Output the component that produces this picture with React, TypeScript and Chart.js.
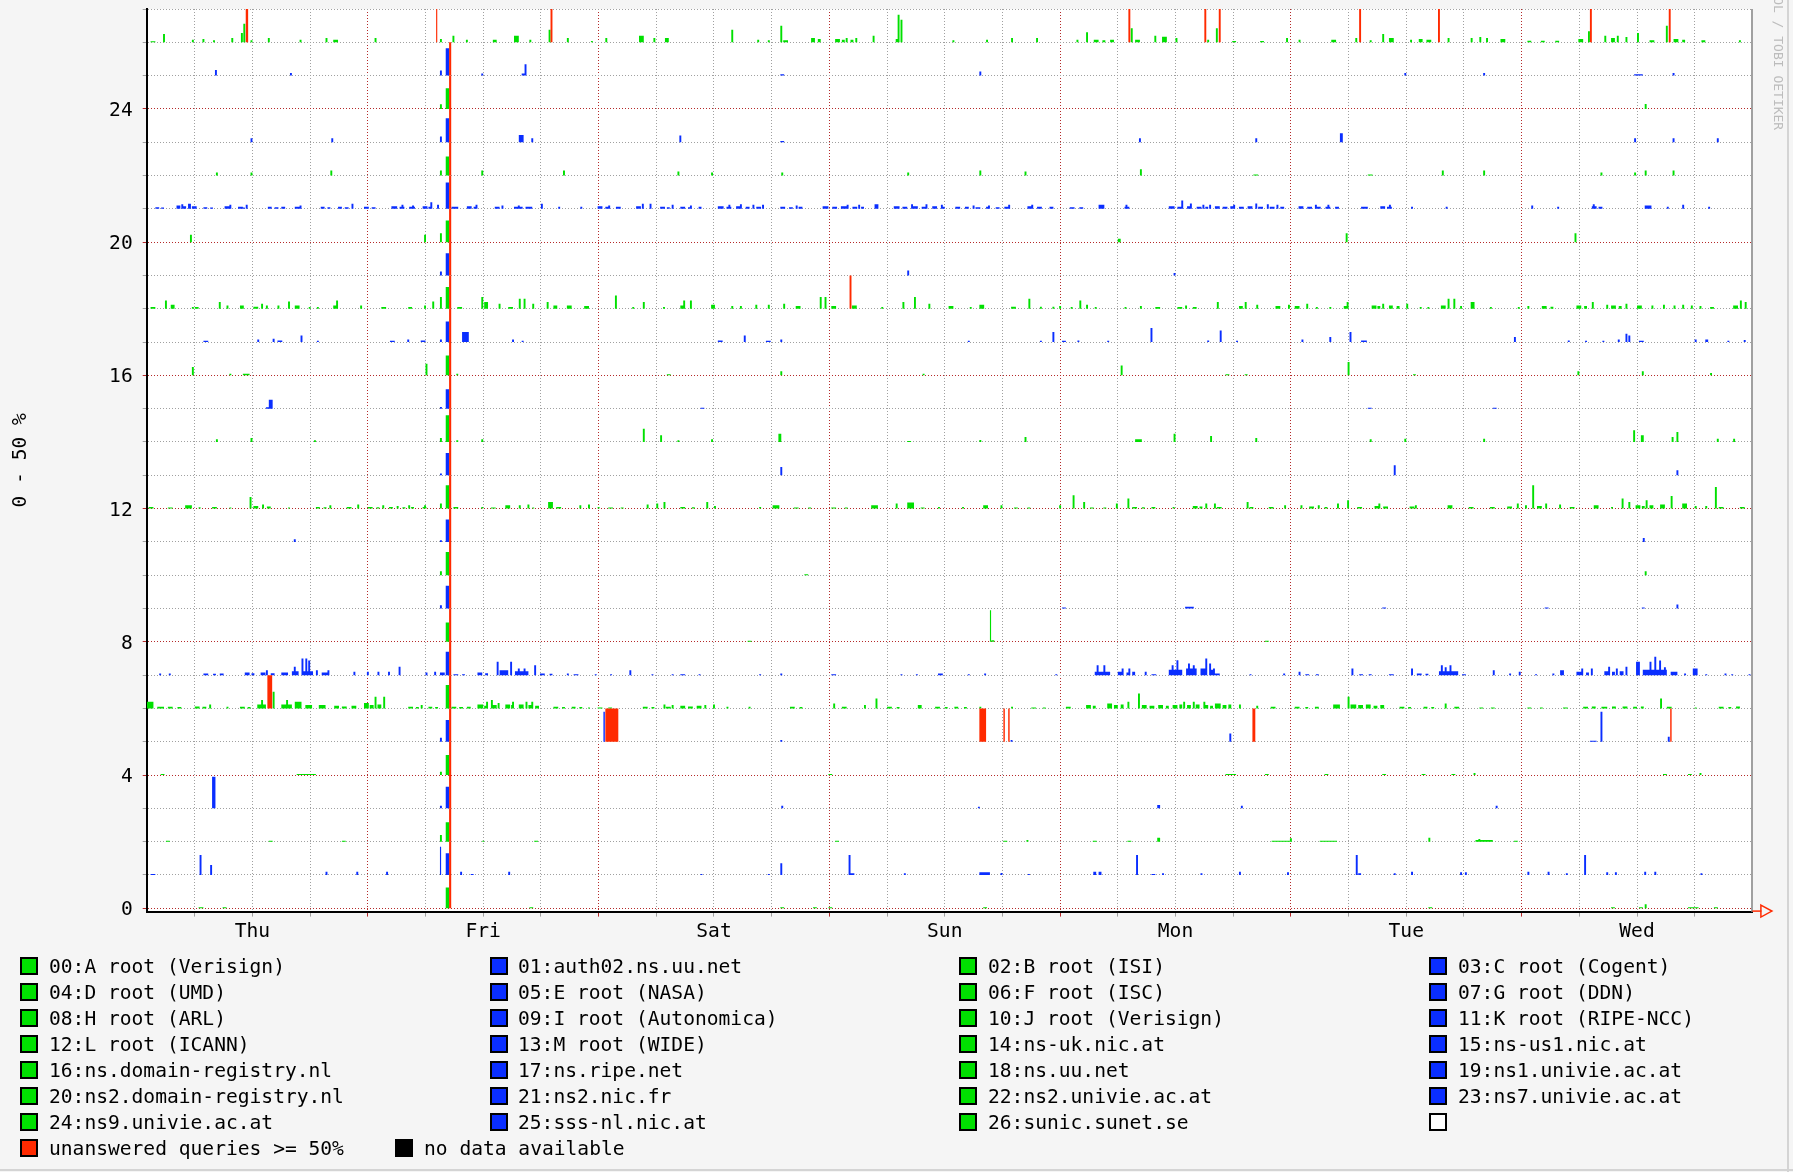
import React, { useEffect, useRef } from 'react';
import { Chart, registerables } from 'chart.js';

Chart.register(...registerables);

// [hour from Thu 00:00, unanswered %, optional width in hours]
type Spike = [number, number, number?];

const X_MIN = 1;
const X_MAX = 168;
const Y_MIN = -0.1;
const Y_MAX = 27;
const X_TICKS = [6, 12, 18, 24, 30, 36, 42, 48, 54, 60, 66, 72, 78, 84, 90, 96, 102, 108, 114, 120, 126, 132, 138, 144, 150, 156, 162];
const DAY_TICKS = [12, 36, 60, 84, 108, 132, 156];
const DAY_LABELS = ['Thu', 'Fri', 'Sat', 'Sun', 'Mon', 'Tue', 'Wed'];
const Y_TICKS = [0, 1, 2, 3, 4, 5, 6, 7, 8, 9, 10, 11, 12, 13, 14, 15, 16, 17, 18, 19, 20, 21, 22, 23, 24, 25, 26, 27];
const Y_LABELED = [0, 4, 8, 12, 16, 20, 24];
const Y_TITLE = '0 - 50 %';

const SERVERS = [
  '00:A root (Verisign)', '01:auth02.ns.uu.net', '02:B root (ISI)', '03:C root (Cogent)',
  '04:D root (UMD)', '05:E root (NASA)', '06:F root (ISC)', '07:G root (DDN)',
  '08:H root (ARL)', '09:I root (Autonomica)', '10:J root (Verisign)', '11:K root (RIPE-NCC)',
  '12:L root (ICANN)', '13:M root (WIDE)', '14:ns-uk.nic.at', '15:ns-us1.nic.at',
  '16:ns.domain-registry.nl', '17:ns.ripe.net', '18:ns.uu.net', '19:ns1.univie.ac.at',
  '20:ns2.domain-registry.nl', '21:ns2.nic.fr', '22:ns2.univie.ac.at', '23:ns7.univie.ac.at',
  '24:ns9.univie.ac.at', '25:sss-nl.nic.at', '26:sunic.sunet.se',
];
const EXTRA_LEGEND = ['unanswered queries >= 50%', 'no data available'];

const s00: Spike[] = [[6.4,1.5,0.5],[8.9,1.5,0.4],[32.1,31,0.35],[40.8,1.5,0.4],[66.9,1.5,0.4],[70.3,1.5,0.4],[71.9,1.5,0.4],[88.0,1.5,0.4],[134.3,1.5,0.4],[153.3,1.5,0.4],[156.2,1.5,0.4],[156.8,6],[161.3,1.5,1.1],[164.0,1.5,0.4]];
const s01: Spike[] = [[1.4,1.5,0.5],[6.5,30],[7.6,15],[19.6,5],[22.8,5],[25.9,5],[31.5,42.5,0.12],[32.1,32.5,0.35],[33.6,5],[34.7,1.5,0.3],[38.6,5],[58.6,1.5],[65.6,1.5],[66.9,17.5],[74.0,30],[74.2,2.5,0.4],[79.75,2.5],[87.6,4,1.1],[89.8,3],[92.65,1.5],[99.45,5,0.3],[100.0,5,0.3],[103.9,30],[105.5,1.5,0.4],[106.6,2.5],[110.6,2.5],[114.6,5],[119.6,4],[126.75,30],[127.0,2.5,0.3],[130.7,2.5],[132.5,5],[137.6,4],[138.1,4],[144.6,5],[146.7,5],[148.6,2.5],[150.5,30],[152.8,4],[153.7,4],[156.75,5],[157.8,5],[162.6,2.5]];
const s02: Spike[] = [[3.0,1.5,0.4],[13.7,1.5,0.4],[21.3,1.5,0.4],[31.5,10],[32.1,29,0.35],[35.9,1.5],[41.3,1.5,0.4],[72.6,1.5,0.4],[90.1,1.5,0.4],[92.5,2.5],[99.4,1.5,0.4],[103.0,1.5,0.4],[106.1,6,0.3],[118.0,1.5,2.0],[119.9,5],[123.0,1.5,1.8],[134.3,6],[139.2,2.5,1.8],[139.5,4],[143.2,1.5,0.4]];
const s03: Spike[] = [[7.8,47.5,0.35],[31.5,4],[32.1,32.5,0.35],[67.0,4],[87.45,2.5],[106.1,5,0.3],[114.8,4],[141.3,4]];
const s04: Spike[] = [[2.45,1.5,0.4],[16.6,1.5,2.0],[31.5,5],[32.1,30,0.35],[71.9,1.5,0.4],[113.2,1.5,1.1],[117.3,1.5,0.4],[123.5,1.5,0.4],[129.5,1.5,0.4],[133.6,1.5,0.4],[136.7,1.5,0.4],[139.0,3],[158.7,1.5,0.4],[161.3,1.5,0.4],[162.5,3]];
const s05: Spike[] = [[31.5,6],[32.1,32.5,0.35],[48.5,45,0.15],[66.9,2.5],[90.85,2.5],[113.6,12.5],[151.1,1.5,0.7],[152.2,45],[159.2,7.5]];
const s06: Spike[] = [[1.0,10,0.7],[1.5,4],[2.1,2.5,0.7],[3.2,2.5,0.5],[4.2,2,0.4],[6.0,3,0.5],[6.8,2.5,0.4],[7.5,6],[9.3,2.5],[10.7,2.5,0.5],[11.5,2,0.3],[12.5,6,0.9],[12.9,12.5],[14.1,25],[15.0,6,1.1],[15.5,12.5],[16.4,10,0.7],[17.5,5,0.7],[18.9,5,0.7],[20.5,4,0.5],[21.3,3,0.5],[22.3,4,0.5],[23.6,8,0.5],[24.2,5,0.4],[24.7,17.5],[25.0,6,0.4],[25.6,17.5],[28.2,2.5,0.5],[29.0,2,0.3],[29.5,5],[30.3,2.5,0.4],[31.0,2,0.3],[32.1,35,0.35],[32.7,2.5,0.5],[33.5,2,0.4],[34.3,2.5,0.4],[35.4,6,0.6],[36.1,4,0.2],[36.3,10],[36.8,12.5],[37.0,5,0.4],[37.5,8],[38.3,6,0.5],[38.9,5,0.3],[39.0,10],[39.7,6,0.5],[40.4,10],[40.7,5,0.3],[41.0,10],[41.4,4,0.4],[43.3,2.5,0.5],[44.2,2,0.3],[45.2,2.5,0.4],[46.0,2,0.3],[46.9,1.5],[47.9,1.5,0.5],[49.0,1.5,0.4],[52.6,2.5,0.5],[53.5,2,0.3],[54.75,6],[55.0,2.5,0.5],[55.6,5],
  [56.5,4,0.5],[57.3,3,0.5],[58.2,4,0.5],[59.0,5],[59.9,6],[61.3,2.5],[63.6,2.5],[67.9,2.5,0.5],[68.9,2,0.3],[72.4,7.5],[73.3,2.5,0.5],[75.6,5],[76.8,15],[78.0,2.5,0.5],[79.0,2,0.3],[81.2,5,0.4],[83.0,2.5,0.5],[84.0,2,0.3],[85.0,2.5,0.4],[86.0,2,0.3],[87.6,2.5],[90.9,2.5],[93.0,1.5,0.5],[94.2,1.5,0.3],[96.6,2.5,0.5],[98.7,5,0.5],[99.4,4,0.3],[100.9,7.5,0.5],[101.6,5,0.4],[102.3,6,0.3],[103.0,10],[104.1,22.5],[104.5,5,0.5],[105.3,4,0.5],[106.2,5,0.5],[107.0,4,0.3],[107.7,5,0.5],[108.4,6,0.3],[108.8,10],[109.2,5,0.4],[109.8,10],[110.1,6,0.4],[110.9,10],[111.0,5,0.4],[111.6,4,0.3],
  [112.1,7.5,0.6],[112.9,5,0.4],[113.5,6,0.3],[114.6,6],[116.4,4],[117.9,2.5,0.5],[120.4,2.5,0.5],[121.5,2,0.3],[122.5,2.5,0.4],[124.4,6,0.7],[125.9,17.5],[126.2,6,0.6],[127.0,5,0.5],[127.8,6,0.5],[128.6,4,0.4],[129.3,5,0.4],[131.3,2.5,0.5],[132.2,2,0.3],[133.8,2.5,0.4],[134.6,2,0.3],[136.0,7.5],[137.0,2.5,0.5],[139.6,1.5,0.4],[140.8,1.5,0.4],[144.6,1.5,0.4],[145.9,1.5,0.3],[148.3,1.5,0.5],[150.4,2.5,0.5],[151.3,3,0.4],[152.3,2.5,0.6],[153.4,3,0.4],[154.5,3,0.5],[155.6,2.5,0.4],[156.4,3,0.3],[158.4,15],[159.1,2.5,0.5],[162.0,1.5],[164.5,2.5,0.5],[165.5,2,0.3],[166.3,3,0.4]];
const s07: Spike[] = [[2.3,2.5],[3.3,2.5],[6.9,2.5,0.5],[7.9,2,0.3],[8.6,2.5,0.4],[11.2,4,0.5],[11.9,3,0.3],[12.85,4,0.5],[13.4,7.5],[13.9,3,0.4],[15.0,4,0.7],[16.1,6,0.7],[16.3,12.5],[17.1,25],[17.2,6,1.1],[17.5,25],[17.8,22],[18.6,7.5],[19.2,4,0.8],[19.8,7.5],[22.5,5],[23.9,5],[25.0,5],[26.1,5],[27.2,12.5],[30.0,4],[30.9,5],[31.5,4,0.5],[32.1,35,0.35],[32.9,1.5,0.5],[33.8,1.5,0.3],[35.4,4,0.5],[36.2,3,0.3],[37.4,20],[37.7,7.5,0.9],[38.8,20],[39.3,6,1.4],[39.6,10],[40.2,10],[41.3,15],[41.9,2.5,0.5],[42.9,2,0.3],[44.7,2.5],[45.4,1.5,0.5],[47.6,1.5],[49.2,1.5],[51.2,7.5],[53.5,1.5],[55.6,1.5],
  [56.5,1.5,0.5],[58.4,1.5],[64.7,1.5],[66.9,2.5],[72.2,1.5,0.5],[79.4,1.5],[81.0,1.5],[83.3,2.5,0.5],[86.4,1.5],[88.1,2.5],[95.5,1.5],[99.6,5,1.6],[99.8,15],[100.5,15],[102.0,5,0.4],[102.4,10],[102.9,4,0.3],[103.1,10],[103.5,5,0.3],[104.8,5],[105.5,1.5,0.5],[107.3,8,1.4],[107.6,15],[108.1,22.5],[109.1,10,1.1],[109.3,17.5],[109.8,15],[110.6,10,0.6],[111.1,25],[111.5,17.5],[111.7,8,0.3],[111.9,10],
  [112.1,2.5,0.5],[115.7,1.5],[119.2,2.5],[120.8,5],[121.5,1.5,0.4],[122.6,1.5,0.3],[126.3,10],[127.1,1.5,0.4],[128.1,1.5,0.3],[130.2,1.5,0.5],[132.5,10],[133.1,2.5,0.5],[134.0,2,0.3],[135.4,6,2.0],[135.6,15],[136.0,12],[136.5,15],[137.8,1.5,0.4],[141.0,7.5],[142.7,2.5],[143.7,5],[145.4,1.5],[147.2,2.5],[148.0,7.5,0.4],[149.7,5,0.5],[150.2,10],[150.7,4,0.3],[151.2,10],[152.6,6,0.4],[153.0,12.5],[153.4,5,0.3],[153.8,10],[154.2,6,0.4],[154.8,12.5],[155.9,20,0.4],[156.6,8,2.5],[157.3,20],[157.8,27.5],[158.3,22],[158.8,12],[159.5,5,0.7],[160.9,2.5],[161.8,10,0.5],[163.1,1.5],[165.1,2.5],[165.8,1.5],[167.6,1.5]];
const s08: Spike[] = [[32.1,29,0.35],[63.5,1.5,0.4],[88.7,47.5,0.12],[88.85,2.5,0.3],[117.3,1.5,0.4]];
const s09: Spike[] = [[31.5,5],[32.1,34,0.35],[96.2,1.5,0.4],[109.0,2.5,0.9],[129.5,1.5,0.4],[146.4,1.5,0.4],[156.5,1.5,0.3],[160.1,6]];
const s10: Spike[] = [[31.5,6],[32.1,35,0.35],[69.4,1.5,0.4],[156.8,6]];
const s11: Spike[] = [[16.3,4],[31.5,2.5],[32.1,33.5,0.35],[156.6,6]];
const s12: Spike[] = [[1.2,2.5,0.5],[3.2,1.5,0.5],[5.0,5,0.7],[6.4,2],[7.8,2.5,0.5],[9.6,1.5],[11.7,17.5],[12.1,4,0.5],[13.0,6],[13.5,3,0.4],[15.7,1.5],[18.6,2.5,0.4],[19.4,2,0.3],[20.0,5],[21.8,2.5,0.5],[22.9,6],[24.0,2.5,0.5],[24.9,2,0.3],[25.5,5],[26.2,2.5,0.4],[27.0,4],[27.6,2,0.3],[28.2,5],[28.5,2.5,0.3],[29.7,2.5,0.4],[29.85,5],[31.5,7.5],[32.1,35,0.35],[32.9,2.5,0.5],[35.8,2.5],[36.8,1.5,0.5],[38.3,5,0.5],[39.7,5],[40.6,6],[41.1,1.5],[42.75,10,0.5],[43.6,2.5,0.5],[46.0,5],[46.9,6],[47.9,2.5],[49.0,1.5,0.5],[50.3,1.5,0.3],[53.0,6],[54.0,7.5],[54.75,10],
  [56.5,2.5,0.5],[57.7,2,0.3],[59.2,10],[60.0,4],[64.7,2.5],[66.1,5,0.7],[68.3,1.5,0.5],[69.8,1.5,0.3],[72.2,1.5,0.5],[73.6,1.5,0.3],[76.35,5,0.7],[78.9,7.5],[80.1,9,0.7],[81.5,1.5,0.4],[83.3,2.5],[85.8,2.5],[88.0,5,0.5],[89.8,5],[91.2,1.5,0.4],[92.6,1.5,0.3],[95.9,5],[97.3,20],[98.4,10],[99.1,1.5,0.4],[100.5,1.5,0.3],[101.8,7.5],[103.0,15],[103.5,2.5,0.5],[104.5,2,0.3],[105.5,2.5,0.4],[107.7,2.5],[109.8,4,0.5],[110.5,3,0.3],[111.1,7.5],[112.0,7.5],
  [112.3,2.5,0.5],[115.4,10],[115.7,2.5,0.4],[117.7,2.5,0.5],[119.3,5],[121.0,5],[121.9,3,0.5],[122.8,5],[123.5,2.5,0.3],[124.8,7.5],[125.85,12.5],[126.9,2.5,0.5],[128.7,4,0.4],[129.1,7.5],[129.6,3,0.5],[132.35,3,0.5],[132.9,5],[136.3,5,0.5],[138.5,2.5,0.5],[140.7,2.5,0.5],[142.5,3,0.5],[143.5,7.5],[144.35,5],[145.1,35],[145.6,4,0.5],[146.45,7.5],[147.9,6],[149.0,2.5,0.5],[151.5,5,0.5],[153.3,2.5],[154.4,15],[155.1,10],[155.85,5,0.5],[156.5,4,0.3],[156.9,12.5],[157.3,5,0.4],[158.4,6,0.5],[159.5,19],[160.7,7.5,0.5],[162.0,4],[163.1,4],[164.1,32.5],[164.5,2.5,0.5],[166.7,2.5,0.5]];
const s13: Spike[] = [[31.5,2.5],[32.1,33.5,0.35],[66.9,12.5],[130.7,15],[160.1,7.5]];
const s14: Spike[] = [[8.2,4],[11.8,6],[18.4,2.5],[31.5,6],[32.1,40,0.35],[33.2,2.5],[35.8,4],[52.6,20],[54.4,10],[56.2,2.5],[59.7,4],[66.7,12.5,0.3],[80.1,1.5,0.4],[87.6,3],[92.3,7.5],[103.8,4,0.7],[107.8,12.5],[111.6,9],[116.3,6],[128.2,4],[131.8,5],[140.0,5],[155.6,17.5],[156.4,10,0.3],[159.6,7.5],[160.1,15],[164.3,5],[166.0,5]];
const s15: Spike[] = [[13.4,2,0.3],[13.7,13.5,0.4],[31.5,2.5],[32.1,29,0.35],[58.6,1.5,0.4],[128.0,1.5,0.4],[141.0,1.5,0.4]];
const s16: Spike[] = [[5.7,12.5],[9.6,2.5],[11.0,2.5,0.7],[30.0,17.5],[32.1,30,0.35],[33.2,2.5],[55.1,1.5,0.4],[66.9,6],[81.7,2.5],[102.3,15],[113.2,1.5,0.4],[115.2,1.5,0.3],[125.9,20],[132.7,1.5,0.3],[149.8,6],[156.5,6],[163.6,3.5]];
const s17: Spike[] = [[6.9,2,0.5],[12.5,4],[14.1,5],[14.6,2.5,0.5],[17.0,10],[18.7,2],[26.3,2,0.5],[28.1,4],[29.5,2.5,0.5],[31.5,4],[32.1,31,0.35],[33.8,15,0.7],[39.0,4],[40.0,2],[60.4,2.5,0.5],[63.1,10],[65.4,2,0.5],[66.9,4],[86.4,2],[93.9,2],[95.2,15],[96.2,2,0.4],[97.8,2.5],[100.9,2],[105.4,21],[111.3,2.5],[112.6,17.5],[114.3,2],[121.1,4],[124.0,7.5],[126.1,15],[127.3,2.5,0.6],[143.2,7.5],[148.8,2.5],[150.6,2],[152.4,2],[154.0,4],[154.8,12.5],[155.1,10],[156.2,2,0.5],[162.0,4],[163.1,4,0.3],[165.4,2],[167.1,3]];
const s18: Spike[] = [[1.4,2.5,0.5],[2.9,12.5],[3.5,6,0.4],[5.7,2.5],[6.0,2.5,0.4],[8.5,10],[9.3,5],[10.7,5,0.4],[12.1,3,0.5],[12.9,7.5],[13.4,5],[14.6,5],[15.7,11],[16.4,5,0.5],[17.85,2.5],[18.7,2.5],[20.4,5,0.5],[20.7,12.5],[23.2,5],[25.4,2.5,0.5],[28.2,2.5,0.4],[29.85,5],[30.7,11],[31.5,17.5],[32.1,32.5,0.35],[33.3,2.5,0.5],[35.8,17.5],[36.1,10,0.4],[37.6,7.5],[38.6,2.5,0.5],[39.7,15],[40.2,15],[41.1,7.5],[42.6,10],[43.3,5,0.4],[44.7,5,0.5],[46.5,4,0.5],[49.7,20],[51.5,2.5],[52.6,10],[54.7,2.5],
  [56.5,5,0.4],[56.8,12.5],[57.5,12.5],[59.7,6,0.4],[61.8,4],[62.7,4],[64.3,6],[65.6,6],[67.2,7.5],[68.5,4,0.5],[71.0,17.5],[71.5,17.5],[72.2,4,0.5],[74.35,5,0.5],[77.4,2.5],[79.6,10],[80.8,17.5],[82.3,7.5],[84.4,4,0.5],[86.6,2.5],[87.6,6,0.5],[90.9,3,0.5],[92.7,15],[93.9,3],[95.2,3],[95.9,4],[97.1,2.5],[98.0,12.5],[98.7,6],[99.6,2.5],[102.7,2.5],[104.3,4],[105.9,2.5,0.5],[108.2,2.5,0.5],[109.0,5],[109.8,2.5,0.4],[112.3,10],
  [114.6,4,0.4],[115.2,10],[116.4,6],[118.4,4,0.5],[119.7,6],[120.4,4,0.5],[121.6,7.5],[122.6,2.5],[124.0,2.5],[125.5,4,0.4],[125.8,10],[128.4,5,0.5],[129.0,4,0.3],[129.5,7.5],[130.2,5,0.4],[131.0,4,0.3],[132.0,7.5],[133.4,2.5],[134.2,2.5],[135.6,5,0.5],[136.3,15],[136.9,15],[137.6,4],[138.7,10,0.4],[140.7,2.5],[143.6,2.5],[144.6,4],[146.1,4,0.5],[147.0,3,0.3],[149.7,5,0.5],[150.5,4,0.3],[151.3,10],[152.8,6],[153.3,5,0.5],[154.1,4,0.3],[154.8,7.5],[156.0,5,0.5],[157.5,5],[158.7,6],[159.8,5],[160.7,6],[161.6,5],[162.5,4],[163.6,2.5,0.4],[166.0,5,0.5],[166.7,12.5],[167.2,10]];
const s19: Spike[] = [[31.5,6],[32.1,33.5,0.35],[80.1,7.5],[107.8,3.5]];
const s20: Spike[] = [[5.5,11],[29.85,11],[31.5,13.5],[32.1,32.5,0.35],[102.0,5,0.3],[125.7,13.5],[149.5,13.5]];
const s21: Spike[] = [[1.9,2.5,0.4],[2.5,2,0.3],[4.1,5,0.4],[4.6,7],[4.8,4,0.3],[5.3,7.5,0.3],[5.7,4,0.5],[6.9,2.5,0.4],[7.6,2,0.3],[9.1,4,0.5],[9.6,6],[10.5,3,0.5],[11.0,2,0.2],[11.3,6],[13.6,3,0.4],[14.3,2.5,0.4],[15.0,3,0.4],[16.4,3,0.5],[16.9,5],[19.1,3,0.4],[19.8,2.5,0.3],[20.9,3,0.4],[21.6,2.5,0.4],[22.3,7.5],[23.6,3,0.5],[24.4,2.5,0.4],[26.45,4,0.6],[27.3,3,0.5],[27.5,6],[28.3,3,0.6],[28.6,5],[29.7,4,0.5],[30.3,3,0.4],[30.5,10],[31.2,6],[32.1,39.5,0.35],[32.7,3,0.7],[34.3,4,0.5],[35.0,3,0.4],[35.2,6],[37.2,3,0.5],[37.9,5],[39.2,3,0.9],[39.6,5],[40.4,3,0.7],[42.0,7.5],[43.8,3],[46.1,3],[47.9,4,0.5],[48.7,3,0.5],[49.0,5],[49.8,3,0.5],[51.9,4,0.5],[52.5,7.5],[53.3,7.5],[54.4,3,0.5],[55.1,2.5,0.3],[55.6,6],
  [56.5,3,0.5],[57.3,2.5,0.4],[57.5,5],[58.4,3,0.3],[60.4,4,0.6],[61.3,3,0.5],[61.5,6],[62.3,4,0.6],[62.7,7],[63.3,3,0.4],[64.0,6],[64.4,3,0.5],[65.0,6],[66.9,3,0.5],[67.8,2.5,0.4],[68.5,5],[68.8,3,0.4],[71.3,4,0.6],[72.3,3,0.5],[73.2,4,0.6],[73.8,6],[74.4,3,0.5],[75.0,6],[75.3,3,0.3],[76.7,7,0.4],[78.7,4,0.6],[79.6,3,0.5],[80.5,7],[80.7,4,0.5],[81.6,3,0.5],[82.0,7],[82.7,4,0.5],[83.6,6],[83.7,3,0.3],[85.1,3,0.5],[86.1,3,0.4],[86.9,5],[87.2,2.5,0.5],[88.3,3,0.4],[88.5,5],[89.3,2.5,0.4],[90.2,3,0.5],[90.6,6],[92.6,4,0.6],[93.0,6],[93.6,3,0.5],[94.9,3,0.4],[97.0,2.5,0.5],[98.0,2.5,0.4],[100.0,6,0.6],[102.7,3,0.5],[102.8,6],[107.3,4,0.6],[108.2,3,0.4],[108.6,12.5],[109.2,4,0.5],[109.5,8],[110.2,3,0.5],[110.8,6],[111.1,3,0.3],[111.5,6],
  [112.1,4,0.5],[112.9,3,0.5],[113.7,4,0.5],[114.0,6],[114.6,3,0.5],[115.5,4,0.5],[116.3,8],[116.6,3,0.5],[117.5,7],[117.8,3,0.5],[118.5,6],[118.9,3,0.4],[120.8,4,0.5],[121.7,3,0.5],[122.5,6],[122.7,3,0.4],[123.6,3,0.5],[123.8,6],[124.6,3,0.4],[127.3,3,0.7],[129.3,4,0.5],[130.0,3,0.5],[130.2,6],[132.5,3],[136.1,3],[145.0,5],[147.7,3],[151.3,4,0.5],[151.4,7],[152.0,3,0.4],[156.8,5,0.7],[159.1,3],[160.7,6],[163.4,3]];
const s22: Spike[] = [[8.2,4.5],[11.8,4.5],[20.1,7.5],[31.5,7.5],[32.1,28.5,0.35],[35.8,7.5],[44.3,7.5],[56.2,6],[59.7,4.5],[67.0,4.5],[80.1,4.5],[87.6,7.5],[92.3,6],[104.3,9.5],[116.1,1.5,0.5],[128.0,1.5,0.5],[135.7,7.5],[140.0,7.5],[152.2,4.5],[155.7,4.5],[156.8,7.5],[159.7,7.5]];
const s23: Spike[] = [[11.8,6],[20.2,6],[31.5,8.5],[32.1,36,0.35],[39.7,11,0.5],[41.0,6],[56.4,10],[66.9,2,0.4],[104.2,6],[116.3,6],[125.1,13.5,0.3],[155.7,6],[159.7,6],[164.3,6]];
const s24: Spike[] = [[31.5,7],[32.1,31,0.35],[156.8,7.5]];
const s25: Spike[] = [[8.1,8.5],[15.9,4],[31.5,7.5],[32.1,41,0.35],[35.8,3],[40.0,3,0.4],[40.3,17],[66.9,2,0.4],[87.6,6],[131.8,4],[140.0,4],[155.7,2,0.9],[159.7,4]];
const s26: Spike[] = [[1.4,1.5,0.5],[2.7,12.5],[5.7,4],[6.8,5],[7.9,3],[9.8,6.5],[10.8,14],[11.05,28],[11.8,3],[13.6,6.5],[16.9,4],[19.6,6.5],[20.4,4,0.5],[24.7,6.5],[31.5,5],[32.8,10],[34.2,4],[37.0,4,0.4],[39.2,10,0.5],[40.8,4],[42.8,19],[44.7,6.5],[47.2,2],[48.7,6.5],[52.2,10,0.5],[53.7,6.5],[54.9,6.5,0.4],
  [61.8,19],[64.5,4],[65.6,3],[66.9,25],[67.2,3,0.5],[70.1,6.5,0.4],[70.8,5,0.3],[72.6,5,0.5],[73.3,4,0.3],[73.7,6.5],[74.2,4,0.3],[74.7,6.5],[76.5,10],[78.9,5,0.3],[79.1,41.5],[79.4,34],[84.8,3],[88.3,4],[90.9,6.5],[93.5,6.5],[97.7,4],[98.7,15],[99.5,4,0.5],[100.4,3,0.3],[101.2,4,0.4],[103.35,21],[103.8,4,0.5],[105.8,10],[106.6,8.5,0.5],[108.0,6.5],[111.3,4],[112.2,21],
  [113.9,2,0.4],[116.8,2,0.4],[119.5,6.5],[120.8,4],[124.2,4,0.5],[126.7,6.5],[128.2,3],[129.5,12.5],[130.2,6.5,0.5],[132.4,4],[133.3,5,0.4],[134.1,4,0.5],[136.3,6.5],[138.7,6.5],[139.6,8],[140.3,6.5],[141.8,5,0.5],[144.6,2.5,0.4],[146.0,2.5,0.4],[147.5,2.5,0.4],[149.9,5,0.5],[150.9,16.5],[152.6,10],[153.3,6.5,0.4],[153.9,10],[154.8,8],[156.0,14],[157.3,3,0.5],[159.0,25],[159.8,5,0.5],[160.7,4,0.3],[162.7,3,0.4],[166.6,3]];

const SPIKES: Spike[][] = [s00, s01, s02, s03, s04, s05, s06, s07, s08, s09, s10, s11, s12, s13, s14, s15, s16, s17, s18, s19, s20, s21, s22, s23, s24, s25, s26];

// unanswered >= 50%: [row, hour, width in hours]
const UNANSWERED: [number, number, number][] = [
  [26,11.3,0.25],[26,31.1,0.12],[26,43.0,0.2],[26,103.1,0.2],[26,111.0,0.2],[26,112.5,0.2],[26,127.1,0.2],[26,135.3,0.2],[26,151.1,0.2],[26,159.3,0.2],
  [18,74.1,0.2],[6,13.55,0.5],
  [5,48.7,1.35],[5,87.6,0.7],[5,90.1,0.15],[5,90.6,0.15],[5,116.0,0.3],[5,159.45,0.15],
  [0,32.45,0.22],[1,32.45,0.22],[2,32.45,0.22],[3,32.45,0.22],[4,32.45,0.22],[5,32.45,0.22],[6,32.45,0.22],[7,32.45,0.22],[8,32.45,0.22],
  [9,32.45,0.22],[10,32.45,0.22],[11,32.45,0.22],[12,32.45,0.22],[13,32.45,0.22],[14,32.45,0.22],[15,32.45,0.22],[16,32.45,0.22],[17,32.45,0.22],
  [18,32.45,0.22],[19,32.45,0.22],[20,32.45,0.22],[21,32.45,0.22],[22,32.45,0.22],[23,32.45,0.22],[24,32.45,0.22],[25,32.45,0.22],
];
const UNANSWERED_PCT = 50;
const FULL_SCALE_PCT = 50;
const DEFAULT_WIDTH = 0.2;

const GREEN = '#00e000';
const BLUE = '#0a2eff';
const RED = '#ff2a00';
const GRID_GRAY = '#a0a0a0';
const GRID_RED = '#b52a2a';
const FONT_FAMILY = "'DejaVu Sans Mono', monospace";
const FONT_SIZE = 19.6;

function profile(spikes: Spike[], base: number) {
  const segs = spikes.map(([t, p, w]) => ({ a: t, b: t + (w ?? DEFAULT_WIDTH), v: p }));
  const set = new Set<number>([X_MIN, X_MAX]);
  segs.forEach((s) => { set.add(s.a); set.add(s.b); });
  const xs = Array.from(set).filter((x) => x >= X_MIN && x <= X_MAX).sort((p, q) => p - q);
  return xs.map((x, i) => {
    let v = 0;
    if (i < xs.length - 1) {
      const mid = (x + xs[i + 1]) / 2;
      for (const s of segs) if (s.a <= mid && mid < s.b) v = Math.max(v, s.v);
    }
    return { x, y: base + v / FULL_SCALE_PCT };
  });
}

const framePlugin = {
  id: 'rrdFrame',
  beforeDraw(chart: any) {
    const { ctx, chartArea: a } = chart;
    ctx.save();
    ctx.fillStyle = '#f5f5f5';
    ctx.fillRect(0, 0, chart.width, chart.height);
    ctx.fillStyle = '#ffffff';
    ctx.fillRect(a.left, a.top, a.right - a.left, a.bottom - a.top);
    ctx.restore();
  },
  afterDraw(chart: any) {
    const { ctx, chartArea: a } = chart;
    ctx.save();
    ctx.fillStyle = '#a0a0a0';
    ctx.fillRect(Math.round(a.right) - 1, a.top, 2, a.bottom - a.top);
    ctx.strokeStyle = RED;
    ctx.lineWidth = 1.5;
    ctx.beginPath();
    ctx.moveTo(a.right, a.bottom - 0.5);
    ctx.lineTo(a.right + 9, a.bottom - 0.5);
    ctx.stroke();
    ctx.beginPath();
    ctx.moveTo(a.right + 8.5, a.bottom - 6.5);
    ctx.lineTo(a.right + 19.5, a.bottom - 0.5);
    ctx.lineTo(a.right + 8.5, a.bottom + 5.5);
    ctx.closePath();
    ctx.stroke();
    ctx.fillStyle = '#d4d4d4';
    ctx.fillRect(chart.width - 6, 0, 2, chart.height);
    ctx.fillRect(0, chart.height - 3, chart.width, 2);
    ctx.restore();
  },
};

const LEG_SQ_X = [20, 489.5, 959, 1429];
const LEG_TX_X = [49, 518, 988, 1458];
const LEG_Y0 = 966;
const LEG_PITCH = 26;

export default function App() {
  const ref = useRef<HTMLCanvasElement>(null);

  useEffect(() => {
    const canvas = ref.current;
    if (!canvas) return;
    const datasets: any[] = [];
    SPIKES.forEach((sp, k) => {
      datasets.push({
        label: SERVERS[k],
        data: profile(sp, k),
        stepped: true,
        fill: { value: k },
        backgroundColor: k % 2 === 0 ? GREEN : BLUE,
        borderColor: 'rgba(0,0,0,0)',
        borderWidth: 0,
        pointRadius: 0,
        order: 1,
      });
    });
    for (let k = 0; k < SPIKES.length; k++) {
      const reds: Spike[] = UNANSWERED.filter((u) => u[0] === k).map((u) => [u[1], UNANSWERED_PCT, u[2]]);
      if (!reds.length) continue;
      datasets.push({
        label: 'unanswered ' + k,
        data: profile(reds, k),
        stepped: true,
        fill: { value: k },
        backgroundColor: RED,
        borderColor: 'rgba(0,0,0,0)',
        borderWidth: 0,
        pointRadius: 0,
        order: 0,
      });
    }

    const font = { family: FONT_FAMILY, size: FONT_SIZE, weight: 'normal' as const };
    const chart = new Chart(canvas, {
      type: 'line',
      data: { datasets },
      plugins: [framePlugin],
      options: {
        responsive: false,
        animation: false,
        events: [],
        layout: { padding: { left: 0, top: 9, right: 40.6, bottom: 0 } },
        plugins: { legend: { display: false }, tooltip: { enabled: false } },
        scales: {
          x: {
            type: 'linear',
            min: X_MIN,
            max: X_MAX,
            afterFit: (s: any) => { s.height = 260.4; s.paddingLeft = 0; s.paddingRight = 0; },
            afterBuildTicks: (s: any) => { s.ticks = X_TICKS.map((v) => ({ value: v })); },
            ticks: {
              autoSkip: false,
              maxRotation: 0,
              padding: 4,
              font,
              color: '#000',
              callback: (v: any) => {
                const i = DAY_TICKS.indexOf(Number(v));
                return i >= 0 ? DAY_LABELS[i] : '';
              },
            },
            grid: {
              color: (c: any) => (c.tick && c.tick.value % 24 === 0 ? GRID_RED : GRID_GRAY),
              lineWidth: 1,
              tickLength: 5,
            },
            border: { display: true, color: '#000', width: 2, dash: [1, 2] },
          },
          y: {
            type: 'linear',
            min: Y_MIN,
            max: Y_MAX,
            afterFit: (s: any) => { s.width = 146.7; s.paddingTop = 0; s.paddingBottom = 0; },
            afterBuildTicks: (s: any) => { s.ticks = Y_TICKS.map((v) => ({ value: v })); },
            ticks: {
              autoSkip: false,
              padding: 10,
              labelOffset: 2,
              font,
              color: '#000',
              callback: (v: any) => (Y_LABELED.includes(Number(v)) ? String(v) : ''),
            },
            grid: {
              color: (c: any) => (c.tick && c.tick.value % 4 === 0 ? GRID_RED : GRID_GRAY),
              lineWidth: 1,
              tickLength: 4,
            },
            border: { display: true, color: '#000', width: 2, dash: [1, 2] },
            title: { display: true, text: Y_TITLE, font, color: '#000', padding: { top: 8.8, bottom: 0 } },
          },
        },
      } as any,
    });
    return () => chart.destroy();
  }, []);

  const textStyle = (left: number, center: number): React.CSSProperties => ({
    position: 'absolute', left, top: center - 12, height: 26, lineHeight: '26px',
    fontFamily: FONT_FAMILY, fontSize: FONT_SIZE, color: '#000', whiteSpace: 'pre',
  });
  const sqStyle = (left: number, center: number, bg: string): React.CSSProperties => ({
    position: 'absolute', left, top: center - 9, width: 18, height: 18, boxSizing: 'border-box',
    border: '2px solid #000', background: bg,
  });

  const legendItems: React.ReactNode[] = [];
  const nCells = SERVERS.length + 1;
  for (let i = 0; i < nCells; i++) {
    const row = Math.floor(i / 4);
    const col = i % 4;
    const cy = LEG_Y0 + row * LEG_PITCH;
    const name = SERVERS[i];
    const color = name === undefined ? '#ffffff' : i % 2 === 0 ? GREEN : BLUE;
    legendItems.push(<div key={'sq' + i} style={sqStyle(LEG_SQ_X[col], cy, color)} />);
    if (name) legendItems.push(<div key={'tx' + i} style={textStyle(LEG_TX_X[col], cy)}>{name}</div>);
  }
  const lastY = LEG_Y0 + 7 * LEG_PITCH;

  return (
    <div style={{ position: 'absolute', left: 0, top: 0, width: 1793, height: 1172, overflow: 'hidden', background: '#f5f5f5' }}>
      <canvas ref={ref} width={1793} height={1172} style={{ display: 'block', width: 1793, height: 1172 }} />
      {legendItems}
      <div style={sqStyle(LEG_SQ_X[0], lastY, RED)} />
      <div style={textStyle(LEG_TX_X[0], lastY)}>{EXTRA_LEGEND[0]}</div>
      <div style={{ ...sqStyle(395, lastY, '#000') }} />
      <div style={textStyle(424, lastY)}>{EXTRA_LEGEND[1]}</div>
      <div
        style={{
          position: 'absolute', left: 1786, top: -42, transformOrigin: 'left top', transform: 'rotate(90deg)',
          fontFamily: FONT_FAMILY, fontSize: 13, lineHeight: '15px', color: '#bcbcbc', whiteSpace: 'pre',
        }}
      >
        RRDTOOL / TOBI OETIKER
      </div>
    </div>
  );
}
